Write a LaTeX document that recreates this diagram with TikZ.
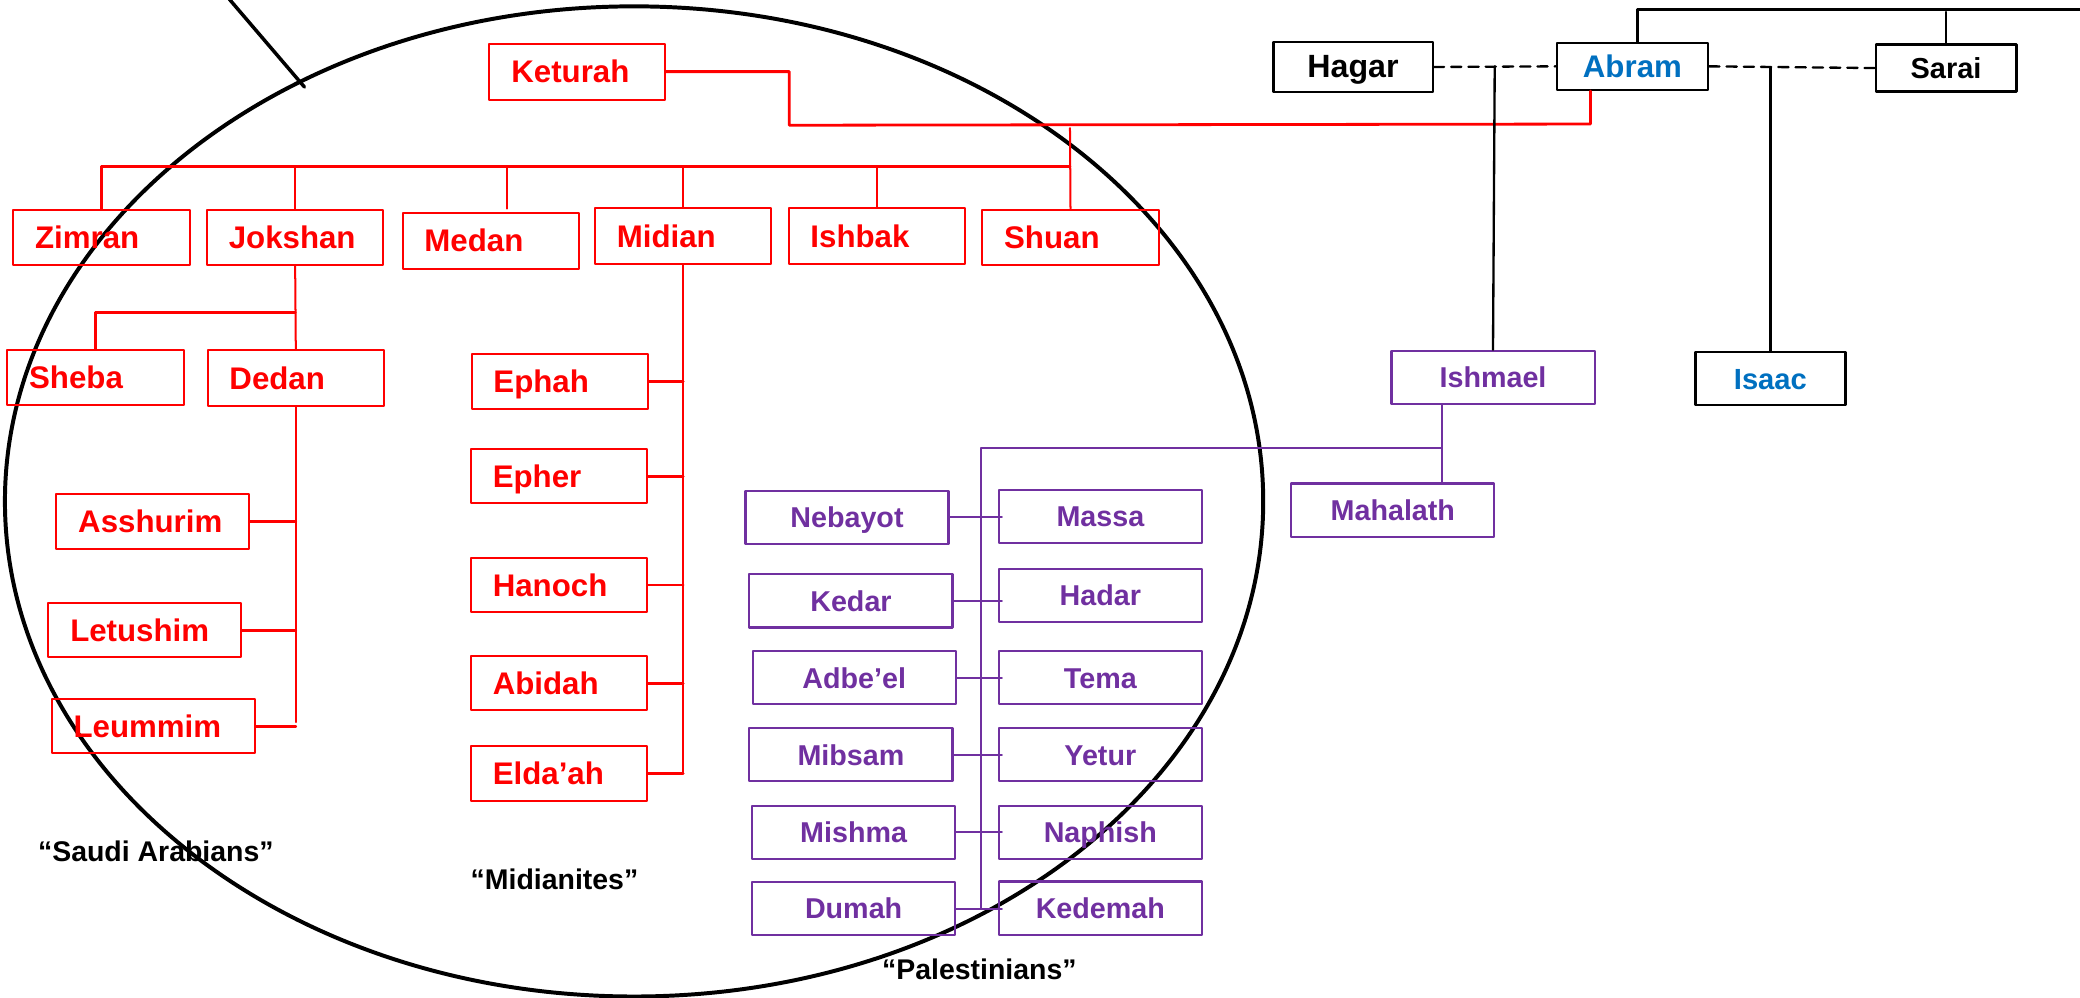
\documentclass[tikz,border=0pt]{standalone}
\usepackage{fontspec}
\setsansfont{Liberation Sans}
\definecolor{ishpurple}{RGB}{112,48,160}
\definecolor{abramblue}{RGB}{0,112,192}

\begin{document}
\begin{tikzpicture}[line cap=round,line join=round,x=0.01cm,y=-0.01cm,
    redkid/.style={draw=red,line width=0.43pt,text=red,font=\sffamily\bfseries\fontsize{6.7}{8}\selectfont,
      minimum height=0.42cm,text width=1cm,inner xsep=0.165cm,inner ysep=0pt,align=left,text height=4.8pt,text depth=0pt},
    purplekid/.style={draw=ishpurple,line width=0.45pt,text=ishpurple,font=\sffamily\bfseries\fontsize{6.15}{8}\selectfont,
      minimum width=1.53cm,minimum height=0.40cm,inner sep=0pt,text height=4.4pt,text depth=0pt},
    patriarch/.style={draw=black,line width=0.5pt,font=\sffamily\bfseries\fontsize{#1}{8}\selectfont,
      inner sep=0pt,text height=4.6pt,text depth=0pt},
    tag/.style={font=\sffamily\bfseries\fontsize{6.1}{8}\selectfont,inner sep=0pt,text height=4.4pt,text depth=0pt},
    redline/.style={red,line width=0.43pt},
    purpleline/.style={ishpurple,line width=0.45pt},
    wedline/.style={black,line width=0.5pt,dash pattern=on 2.2pt off 1.5pt}]
  \useasboundingbox (0,0) rectangle (1568,751.6);
  \draw[line width=0.85pt] (478,378) ellipse [x radius=4.74cm,y radius=3.73cm];
  \draw[line width=0.75pt] (172.9,-0.6) -- (229.5,65.6);

  % Abram's house
  \node[patriarch=6.9,minimum width=1.20cm,minimum height=0.377cm] (hagar) at (1020,50.5) {Hagar};
  \node[patriarch=6.7,minimum width=1.14cm,minimum height=0.354cm,text=abramblue] (abram) at (1230.6,50) {Abram};
  \node[patriarch=6.2,minimum width=1.06cm,minimum height=0.355cm] (sarai) at (1467,51.3) {Sarai};
  \node[patriarch=6.25,minimum width=1.13cm,minimum height=0.40cm,text=abramblue] (isaac) at (1334.6,285.5) {Isaac};
  \coordinate (topline) at (1568,7.3);
  \draw[line width=0.55pt] ([xshift=0.038cm]abram.north) |- (topline);
  \draw[line width=0.55pt] (sarai.north) -- ++(0,-23.6);
  \draw[wedline] (hagar.east) -- coordinate (hagarwed) (abram.west);
  \draw[wedline] (abram.east) -- coordinate (saraiwed) (sarai.west);
  \draw[line width=0.5pt] (isaac.north) -- (isaac.north |- saraiwed);

  % Keturah's sons
  \node[redkid,text width=0.99cm] (keturah) at (435,54) {Keturah};
  \node[redkid] (zimran) at (76.5,179) {Zimran};
  \node[redkid] (jokshan) at (222.5,179) {Jokshan};
  \node[redkid] (medan) at (370,181.5) {Medan};
  \node[redkid] (midian) at (515,178) {Midian};
  \node[redkid] (ishbak) at (661,178) {Ishbak};
  \node[redkid] (shuan) at (807,179) {Shuan};
  \coordinate (ketbend) at (595,94.4);
  \coordinate (abramfoot) at (1199,93.5);
  \coordinate (ketbar) at (806.6,125.7);
  \draw[redline,line width=0.6pt] (keturah.east) -| (ketbend) -- (abramfoot) -- (abramfoot |- abram.south);
  \draw[redline,line width=0.65pt] (zimran.north) |- (ketbar);
  \draw[redline] (shuan.north) -- ([yshift=-0.022cm]ketbar |- ketbend);
  \foreach \k in {jokshan,midian,ishbak}
    \draw[redline] (\k.north) -- (\k.north |- ketbar);
  \draw[redline] ([xshift=0.12cm,yshift=0.025cm]medan.north) -- ([xshift=0.12cm]medan.north |- ketbar);

  % Jokshan and Dedan
  \node[redkid] (sheba) at (72,284.5) {Sheba};
  \node[redkid] (dedan) at (223,285) {Dedan};
  \node[redkid,minimum height=0.41cm,text width=1.12cm] (asshurim) at (115,393) {Asshurim};
  \node[redkid,minimum height=0.41cm,text width=1.12cm] (letushim) at (109,475) {Letushim};
  \node[redkid,minimum height=0.41cm,text width=1.20cm] (leummim) at (115.5,547.5) {Leummim};
  \coordinate (jokfork) at (222.6,235.5);
  \coordinate (dedanend) at (223,544.3);
  \draw[redline] (jokshan.south) -- (dedan.north);
  \draw[redline,line width=0.6pt] (sheba.north) |- (jokfork);
  \draw[redline] (dedan.south) -- (dedanend);
  \foreach \k in {asshurim,letushim,leummim}
    \draw[redline,line width=0.6pt] (\k.east) -- (\k.east -| dedanend);

  % Midian
  \node[redkid] (ephah) at (422,287.5) {Ephah};
  \node[redkid,minimum height=0.41cm] (epher) at (421.5,359) {Epher};
  \node[redkid,minimum height=0.41cm] (hanoch) at (421.5,441) {Hanoch};
  \node[redkid,minimum height=0.41cm] (abidah) at (421.5,515) {Abidah};
  \node[redkid,minimum height=0.41cm] (eldaah) at (421.5,583) {Elda’ah};
  \draw[redline] (midian.south) -- (midian.south |- eldaah.east);
  \foreach \k in {ephah,epher,hanoch,abidah,eldaah}
    \draw[redline,line width=0.6pt] (\k.east) -- (\k.east -| midian.south);

  % Ishmael's sons
  \node[purplekid] (ishmael) at (1125.5,284.5) {Ishmael};
  \node[purplekid] (mahalath) at (1050,384.5) {Mahalath};
  \node[purplekid] (nebayot) at (638.5,390) {Nebayot};
  \node[purplekid] (massa) at (829.5,389.5) {Massa};
  \node[purplekid] (kedar) at (641.5,453) {Kedar};
  \node[purplekid] (hadar) at (829.5,449) {Hadar};
  \node[purplekid] (adbeel) at (644,511) {Adbe’el};
  \node[purplekid] (tema) at (829.5,511) {Tema};
  \node[purplekid] (mibsam) at (641.5,569) {Mibsam};
  \node[purplekid] (yetur) at (829.5,569) {Yetur};
  \node[purplekid] (mishma) at (643.5,627.5) {Mishma};
  \node[purplekid] (naphish) at (829.5,627.5) {Naphish};
  \node[purplekid] (dumah) at (643.5,685) {Dumah};
  \node[purplekid] (kedemah) at (829.5,684.5) {Kedemah};
  \draw[line width=0.5pt] (hagarwed) -- (ishmael.north);
  \coordinate (ishfork) at (1087,337.7);
  \coordinate (nabtop) at (739.7,337.7);
  \draw[purpleline] (ishfork |- ishmael.south) -- (ishfork |- mahalath.north);
  \draw[purpleline] (ishfork) -- (nabtop) -- (nabtop |- dumah.east);
  \foreach \l/\r in {nebayot/massa,kedar/hadar,adbeel/tema,mibsam/yetur,mishma/naphish,dumah/kedemah}
    \draw[purpleline] (\l.east) -- ([xshift=0.03cm]\l.east -| \r.west);

  \node[tag] (saudi) at (117.5,641.9) {“Saudi Arabians”};
  \node[tag] (midianites) at (418,662.9) {“Midianites”};
  \node[tag] (palestinians) at (738.3,730.7) {“Palestinians”};
\end{tikzpicture}
\end{document}
